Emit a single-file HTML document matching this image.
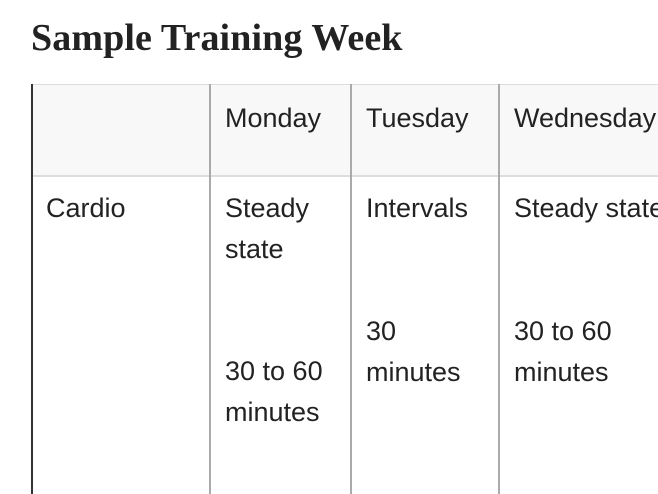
<!DOCTYPE html>
<html><head><meta charset="utf-8"><style>
html,body{margin:0;padding:0;background:#fff;width:658px;height:494px;overflow:hidden;position:relative;font-family:"Liberation Sans",sans-serif;color:#222}
.t{position:absolute;font-size:27px;line-height:41px;white-space:nowrap}
.title{position:absolute;left:31px;top:16px;font-family:"Liberation Serif",serif;font-weight:bold;font-size:38px;color:#222;white-space:nowrap;letter-spacing:0.1px}
.hdr{position:absolute;left:31px;top:84px;width:627px;height:90px;background:#f8f8f8;border-top:1px solid #ddd;border-bottom:2px solid #ddd}
.v{position:absolute;top:84px;bottom:0;width:2px;background:#aaa}
</style></head><body>
<div class="title">Sample Training Week</div>
<div class="hdr"></div>
<div class="v" style="left:31px;background:#333"></div>
<div class="v" style="left:209px"></div>
<div class="v" style="left:350px"></div>
<div class="v" style="left:498px"></div>
<div class="t" style="left:225px;top:98px">Monday</div>
<div class="t" style="left:366px;top:98px">Tuesday</div>
<div class="t" style="left:514px;top:98px">Wednesday</div>
<div class="t" style="left:46px;top:188px">Cardio</div>
<div class="t" style="left:225px;top:188px">Steady<br>state</div>
<div class="t" style="left:225px;top:351px">30 to 60<br>minutes</div>
<div class="t" style="left:366px;top:188px">Intervals</div>
<div class="t" style="left:366px;top:311px">30<br>minutes</div>
<div class="t" style="left:514px;top:188px">Steady state</div>
<div class="t" style="left:514px;top:311px">30 to 60<br>minutes</div>
</body></html>
